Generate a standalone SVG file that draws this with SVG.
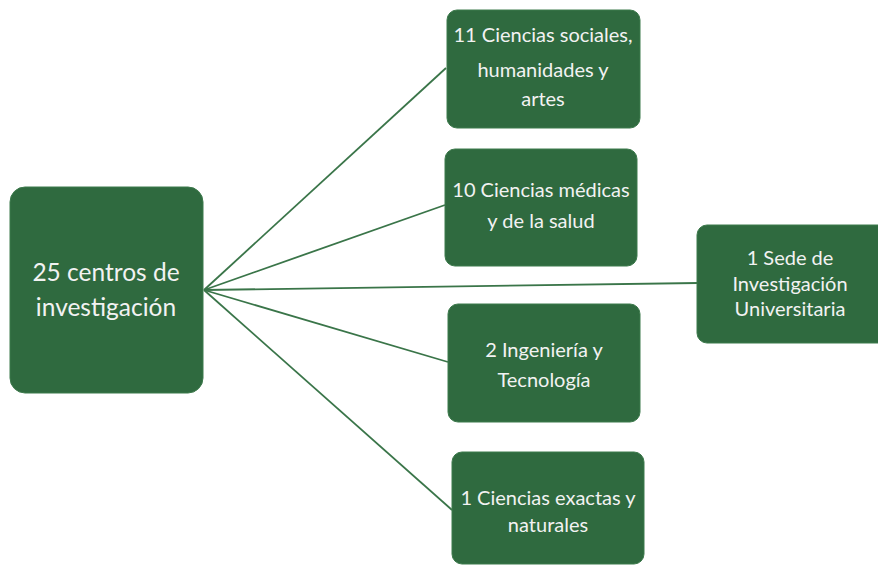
<svg xmlns="http://www.w3.org/2000/svg" width="878" height="565" viewBox="0 0 878 565">
<style>
.box{fill:#2f6a3f;stroke:#3d7a4c;stroke-width:1}
.t{fill:#f2f2f2;font-family:Lato,"Open Sans",sans-serif;text-anchor:middle}
.s{font-size:20px}
.m{font-size:24.5px}
.c{stroke:#3a7549;stroke-width:1.8;fill:none}
</style>
<rect width="878" height="565" fill="#ffffff"/>
<g id="connectors">
<line class="c" x1="204" y1="290" x2="446" y2="68"/>
<line class="c" x1="204" y1="290" x2="445" y2="205"/>
<line class="c" x1="204" y1="290" x2="698" y2="283"/>
<line class="c" x1="204" y1="290" x2="448" y2="362"/>
<line class="c" x1="204" y1="290" x2="452" y2="510"/>
</g>
<g id="hub">
<rect class="box" x="10" y="187" width="193" height="206" rx="15"/>
<text class="t m" x="106" y="281">25 centros de</text>
<text class="t m" x="106" y="316">investigación</text>
</g>
<g id="n1">
<rect class="box" x="447" y="10" width="193" height="118" rx="10"/>
<text class="t s" x="543" y="42">11 Ciencias sociales,</text>
<text class="t s" x="543" y="77">humanidades y</text>
<text class="t s" x="543" y="106">artes</text>
</g>
<g id="n2">
<rect class="box" x="445" y="149" width="192" height="117" rx="10"/>
<text class="t s" x="541" y="197">10 Ciencias médicas</text>
<text class="t s" x="541" y="228">y de la salud</text>
</g>
<g id="n3">
<rect class="box" x="448" y="304" width="192" height="118" rx="10"/>
<text class="t s" x="544" y="357">2 Ingeniería y</text>
<text class="t s" x="544" y="387">Tecnología</text>
</g>
<g id="n4">
<rect class="box" x="452" y="452" width="192" height="112" rx="10"/>
<text class="t s" x="548" y="505">1 Ciencias exactas y</text>
<text class="t s" x="548" y="532">naturales</text>
</g>
<g id="n5">
<rect class="box" x="697" y="225" width="195" height="118" rx="10"/>
<text class="t s" x="790" y="265">1 Sede de</text>
<text class="t s" x="790" y="291">Investigación</text>
<text class="t s" x="790" y="316">Universitaria</text>
</g>
</svg>
